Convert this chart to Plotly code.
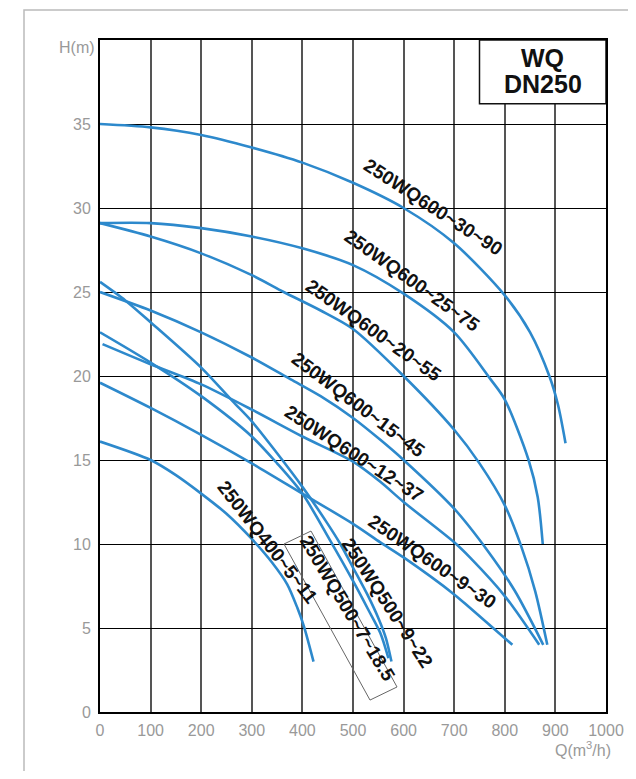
import plotly.graph_objects as go

# ---- data ----
Q30_90 = [0, 100, 200, 300, 400, 500, 600, 700, 800, 850, 888, 905, 920]
H30_90 = [35.0, 34.8, 34.35, 33.6, 32.7, 31.5, 30.0, 27.9, 24.8, 22.6, 20.0, 18.3, 16.0]

Q25_75 = [0, 100, 200, 300, 400, 500, 600, 700, 772, 800, 847, 865, 875]
H25_75 = [29.1, 29.1, 28.8, 28.3, 27.6, 26.6, 24.9, 22.6, 19.8, 18.6, 15.0, 12.8, 10.0]

Q20_55 = [0, 100, 200, 300, 363, 436, 500, 600, 700, 750, 800, 832, 860, 884]
H20_55 = [29.1, 28.3, 27.3, 26.0, 25.0, 23.9, 22.8, 20.0, 16.8, 14.8, 12.3, 9.9, 7.2, 4.0]

Q15_45 = [0, 100, 200, 300, 377, 436, 500, 554, 600, 700, 766, 820, 876]
H15_45 = [25.0, 23.9, 22.6, 21.1, 19.8, 18.8, 17.5, 16.2, 15.0, 12.1, 9.6, 7.2, 4.0]

Q12_37 = [5, 100, 200, 300, 400, 500, 554, 600, 700, 731, 800, 868]
H12_37 = [21.9, 20.7, 19.5, 18.0, 16.4, 14.9, 13.7, 12.5, 10.1, 9.2, 6.9, 4.0]

Q9_30 = [0, 100, 200, 300, 400, 500, 554, 600, 700, 731, 815]
H9_30 = [19.6, 18.1, 16.5, 14.8, 13.0, 11.2, 10.1, 9.2, 7.0, 6.2, 4.0]

Q500_9_22 = [0, 50, 100, 200, 262, 300, 350, 400, 450, 475, 500, 530, 550, 565, 576]
H500_9_22 = [25.6, 24.5, 23.2, 20.5, 18.5, 17.3, 15.4, 13.4, 11.2, 10.0, 8.6, 6.9, 5.6, 4.4, 3.0]

Q500_7_18 = [0, 100, 200, 300, 350, 400, 455, 500, 530, 554, 570]
H500_7_18 = [22.6, 20.8, 18.8, 16.4, 14.8, 13.0, 10.2, 7.8, 6.1, 4.7, 3.2]

Q400_5_11 = [0, 100, 150, 200, 250, 300, 340, 370, 390, 403, 422]
H400_5_11 = [16.1, 15.0, 14.1, 13.0, 11.8, 10.3, 8.9, 7.6, 6.2, 5.1, 3.0]

curves = [
    ("250WQ600~30~90", Q30_90, H30_90),
    ("250WQ600~25~75", Q25_75, H25_75),
    ("250WQ600~20~55", Q20_55, H20_55),
    ("250WQ600~15~45", Q15_45, H15_45),
    ("250WQ600~12~37", Q12_37, H12_37),
    ("250WQ600~9~30", Q9_30, H9_30),
    ("250WQ500~9~22", Q500_9_22, H500_9_22),
    ("250WQ500~7~18.5", Q500_7_18, H500_7_18),
    ("250WQ400~5~11", Q400_5_11, H400_5_11),
]

# label placements (x, y, angle)
label_pos = {
    "250WQ600~30~90": (660, 30.05, 33),
    "250WQ600~25~75": (617, 25.7, 35.5),
    "250WQ600~20~55": (541, 22.7, 35.5),
    "250WQ600~15~45": (510, 18.3, 37),
    "250WQ600~12~37": (502, 15.4, 33),
    "250WQ600~9~30": (656, 8.93, 34.5),
    "250WQ500~9~22": (567, 6.49, 57),
    "250WQ500~7~18.5": (490, 6.19, 59),
    "250WQ400~5~11": (332, 10.1, 52),
}

x_ticks = [0, 100, 200, 300, 400, 500, 600, 700, 800, 900, 1000]
y_ticks = [0, 5, 10, 15, 20, 25, 30, 35]

BLUE = "#2d89cc"
FONT = "Liberation Sans, Arial, sans-serif"

# page body has an 8px margin; sizes chosen so the plot area lands where the reference has it
W, H = 620, 763
ML, MR, MT, MB = 92, 22, 32, 59
PW, PH = W - ML - MR, H - MT - MB  # 506 x 672


def px_to_paper_x(px):
    return (px - 8 - ML) / PW


def py_to_paper_y(py):
    return (8 + MT + PH - py) / PH


fig = go.Figure()
for name, q, h in curves:
    fig.add_trace(go.Scatter(x=q, y=h, mode="lines", name=name,
                             line=dict(color=BLUE, width=2.6, shape="spline", smoothing=0.8),
                             hoverinfo="skip", showlegend=False))

for name, q, h in curves:
    lx, ly, ang = label_pos[name]
    fig.add_annotation(x=lx, y=ly, text="<b>" + name + "</b>", showarrow=False,
                       textangle=ang, font=dict(family=FONT, size=19, color="#111"),
                       xanchor="center", yanchor="middle")

# box around 250WQ500-7-18.5 label
fig.add_shape(type="path",
              path="M 363.6 10.0 L 417 10.77 L 587 1.49 L 533.6 0.71 Z",
              line=dict(color="#666", width=1), layer="above")

# title box
fig.add_shape(type="rect", x0=750, x1=1000, y0=36.2, y1=40, xref="x", yref="y",
              fillcolor="white", line=dict(color="#111", width=1.5), layer="above")
fig.add_annotation(x=875, y=38.93, text="<b>WQ</b>", showarrow=False,
                   font=dict(family=FONT, size=25, color="#111"),
                   xanchor="center", yanchor="middle")
fig.add_annotation(x=875, y=37.38, text="<b>DN250</b>", showarrow=False,
                   font=dict(family=FONT, size=25, color="#111"),
                   xanchor="center", yanchor="middle")

# axis titles
fig.add_annotation(xref="paper", yref="paper", x=px_to_paper_x(583), y=py_to_paper_y(749),
                   text="Q(m<sup>3</sup>/h)", showarrow=False,
                   font=dict(family=FONT, size=16, color="#999"),
                   xanchor="center", yanchor="middle")
fig.add_annotation(xref="paper", yref="paper", x=px_to_paper_x(97), y=py_to_paper_y(48),
                   text="H(m)", showarrow=False,
                   font=dict(family=FONT, size=16, color="#999"),
                   xanchor="right", yanchor="middle")

# outer light-grey frame
fig.add_shape(type="rect", xref="paper", yref="paper",
              x0=px_to_paper_x(24), x1=px_to_paper_x(800),
              y0=py_to_paper_y(900), y1=py_to_paper_y(10),
              line=dict(color="#bbbbbb", width=1.5), fillcolor="rgba(0,0,0,0)", layer="below")

fig.update_xaxes(range=[0, 1000], tickvals=x_ticks, ticktext=[str(v) for v in x_ticks],
                 showgrid=True, gridcolor="#555", gridwidth=1.5,
                 showline=True, linecolor="#000", linewidth=2, mirror=True,
                 ticks="", zeroline=False, ticklabelstandoff=3, automargin=False,
                 tickfont=dict(family=FONT, size=16, color="#999"))
fig.update_yaxes(range=[0, 40], tickvals=y_ticks, ticktext=[str(v) for v in y_ticks],
                 showgrid=True, gridcolor="#000", gridwidth=1,
                 showline=True, linecolor="#000", linewidth=2, mirror=True,
                 ticks="", zeroline=False, ticklabelstandoff=4, automargin=False,
                 tickfont=dict(family=FONT, size=16, color="#999"))

fig.update_layout(width=W, height=H, margin=dict(l=ML, r=MR, t=MT, b=MB, autoexpand=False),
                  paper_bgcolor="white", plot_bgcolor="white", showlegend=False)

fig.write_html("out.html")
